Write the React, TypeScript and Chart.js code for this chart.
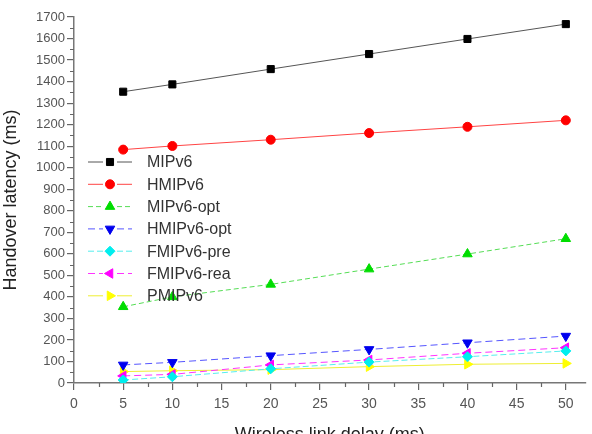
import React, { useEffect, useRef } from "react";
import { Chart, registerables } from "chart.js";
import { drawPoint } from "chart.js/helpers";

Chart.register(...registerables);

const delays = [5, 10, 20, 30, 40, 50];
const seriesNames = ["MIPv6", "HMIPv6", "MIPv6-opt", "HMIPv6-opt", "FMIPv6-pre", "FMIPv6-rea", "PMIPv6"];
const mipv6 = [1353, 1387, 1458, 1528, 1598, 1667];
const hmipv6 = [1084, 1101, 1130, 1161, 1190, 1220];
const mipv6Opt = [354, 400, 458, 529, 599, 670];
const hmipv6Opt = [84, 96, 127, 156, 187, 218];
const fmipv6Pre = [14, 29, 66, 97, 122, 149];
const fmipv6Rea = [33, 40, 84, 107, 138, 164];
const pmipv6 = [53, 57, 62, 76, 87, 91];
const xTickValues = [0, 5, 10, 15, 20, 25, 30, 35, 40, 45, 50];
const yTickMax = 1700;

const FONT = "'Liberation Sans', Arial, sans-serif";

const minorTicks = {
  id: "minorTicks",
  afterDraw(chart: any) {
    const ctx = chart.ctx;
    const xs = chart.scales.x;
    const ys = chart.scales.y;
    const area = chart.chartArea;
    ctx.save();
    ctx.strokeStyle = "#666";
    ctx.lineWidth = 1.2;
    ctx.beginPath();
    for (let v = 2.5; v <= xs.max; v += 5) {
      const px = Math.round(xs.getPixelForValue(v)) + 0.5;
      ctx.moveTo(px, area.bottom);
      ctx.lineTo(px, area.bottom + 4);
    }
    for (let v = 50; v <= ys.max; v += 100) {
      const py = Math.round(ys.getPixelForValue(v)) + 0.5;
      ctx.moveTo(area.left - 4, py);
      ctx.lineTo(area.left, py);
    }
    ctx.stroke();
    ctx.restore();
  },
};

const insideLegend = {
  id: "insideLegend",
  afterDraw(chart: any) {
    const ctx = chart.ctx;
    const area = chart.chartArea;
    ctx.save();
    chart.data.datasets.forEach((ds: any, i: number) => {
      const y = area.top + 145 + i * 22.3;
      const x0 = area.left + 14;
      const xm = x0 + 22;
      const x1 = x0 + 44;
      ctx.strokeStyle = ds.borderColor;
      ctx.lineWidth = ds.borderWidth;
      ctx.setLineDash(ds.borderDash || []);
      ctx.beginPath();
      ctx.moveTo(x0, y);
      ctx.lineTo(xm - 7, y);
      ctx.moveTo(xm + 7, y);
      ctx.lineTo(x1, y);
      ctx.stroke();
      ctx.setLineDash([]);
      ctx.fillStyle = ds.pointBackgroundColor;
      ctx.strokeStyle = ds.pointBorderColor;
      ctx.lineWidth = 1;
      drawPoint(ctx, {
        pointStyle: ds.pointStyle,
        rotation: ds.pointRotation || 0,
        radius: ds.pointRadius,
        borderWidth: 1,
      } as any, xm, y);
      ctx.fillStyle = "#333";
      ctx.font = `16px ${FONT}`;
      ctx.textBaseline = "middle";
      ctx.textAlign = "left";
      ctx.fillText(seriesNames[i], x1 + 15, y + 1);
    });
    ctx.restore();
  },
};

function mk(label: string, data: number[], line: string, mark: string, style: string, radius: number, dash: number[], rotation = 0) {
  return {
    label,
    data: delays.map((x, i) => ({ x, y: data[i] })),
    borderColor: line,
    borderWidth: 1,
    borderDash: dash,
    pointStyle: style,
    pointRotation: rotation,
    pointRadius: radius,
    pointBackgroundColor: mark,
    pointBorderColor: mark,
    pointBorderWidth: 1,
    showLine: true,
    tension: 0,
  };
}

export default function App() {
  const ref = useRef<HTMLCanvasElement>(null);
  useEffect(() => {
    if (!ref.current) return;
    const chart = new Chart(ref.current, {
      type: "scatter",
      data: {
        datasets: [
          mk(seriesNames[0], mipv6, "#555555", "#000000", "rect", 5, []),
          mk(seriesNames[1], hmipv6, "#ff4444", "#ff0000", "circle", 4.5, []),
          mk(seriesNames[2], mipv6Opt, "#55dd55", "#00dd00", "triangle", 5.5, [5, 3]),
          mk(seriesNames[3], hmipv6Opt, "#5555ff", "#0000ee", "triangle", 5.5, [7, 4], 180),
          mk(seriesNames[4], fmipv6Pre, "#55eeee", "#00eeee", "rectRot", 5, [6, 3]),
          mk(seriesNames[5], fmipv6Rea, "#ff33ff", "#ff00ff", "triangle", 5.5, [7, 4], -90),
          mk(seriesNames[6], pmipv6, "#eeee33", "#ffff00", "triangle", 5.5, [], 90),
        ] as any,
      },
      options: {
        responsive: false,
        animation: false,
        layout: { padding: { left: 0, top: 17, right: 2, bottom: 0 } },
        plugins: { legend: { display: false }, tooltip: { enabled: false } },
        scales: {
          x: {
            type: "linear",
            min: 0,
            max: 52,
            afterBuildTicks: (s: any) => {
              s.ticks = xTickValues.map((v) => ({ value: v }));
            },
            afterFit: (s: any) => {
              s.height = 63;
            },
            ticks: {
              color: "#555",
              font: { family: FONT, size: 14 },
              padding: 6,
              autoSkip: false,
              maxRotation: 0,
              callback: (v: any) => String(v),
            },
            grid: { display: true, drawOnChartArea: false, tickLength: 7, color: "#666", lineWidth: 1.2 },
            border: { display: true, color: "#777", width: 1.5 },
            title: {
              display: true,
              text: "Wireless link delay (ms)",
              color: "#222",
              font: { family: FONT, size: 18 },
              padding: { top: 4, bottom: 0 },
            },
          },
          y: {
            type: "linear",
            min: 0,
            max: yTickMax,
            afterFit: (s: any) => {
              s.width = 74;
            },
            ticks: {
              stepSize: 100,
              color: "#555",
              font: { family: FONT, size: 13 },
              padding: 2,
              autoSkip: false,
              callback: (v: any) => String(v),
            },
            grid: { display: true, drawOnChartArea: false, tickLength: 7, color: "#666", lineWidth: 1.2 },
            border: { display: true, color: "#777", width: 1.5 },
            title: {
              display: true,
              text: "Handover latency (ms)",
              color: "#222",
              font: { family: FONT, size: 18 },
              padding: { top: 0, bottom: 2 },
            },
          },
        },
      },
      plugins: [minorTicks, insideLegend],
    } as any);
    return () => chart.destroy();
  }, []);
  return (
    <div style={{ position: "absolute", left: 0, top: 0, width: 592, height: 446, background: "#fff" }}>
      <canvas ref={ref} width={592} height={446} />
    </div>
  );
}
